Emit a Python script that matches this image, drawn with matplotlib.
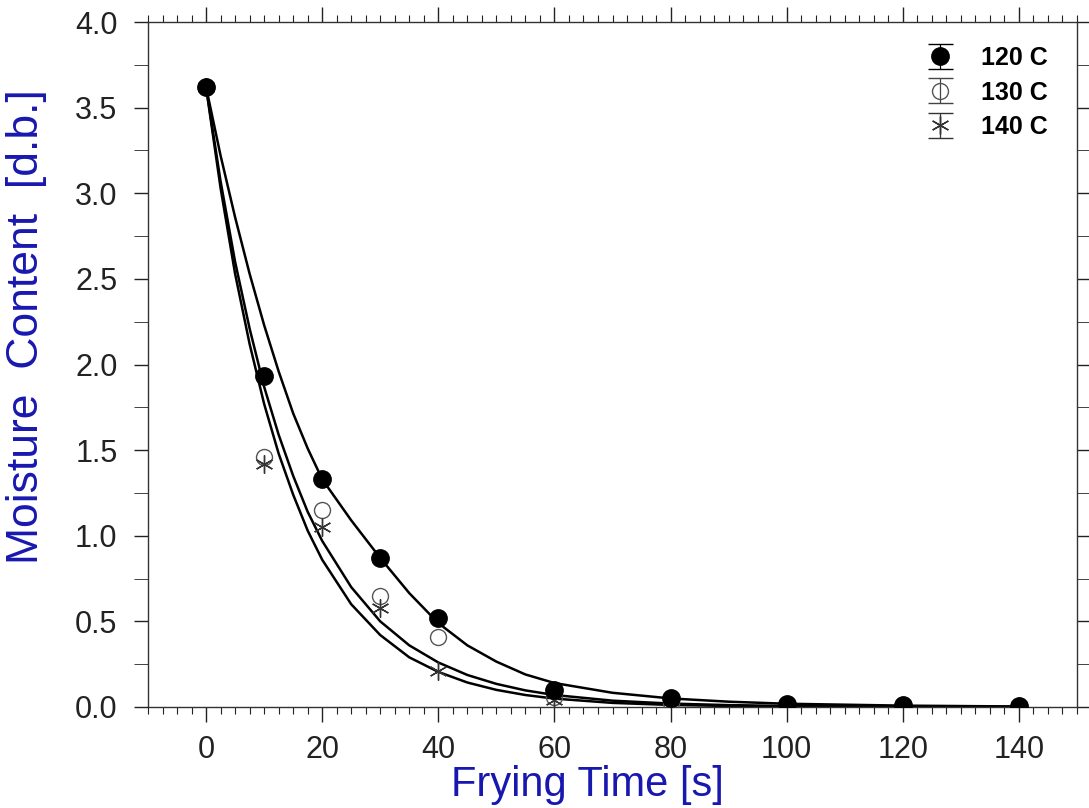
import matplotlib
matplotlib.use("Agg")
import matplotlib.pyplot as plt
from matplotlib.ticker import MultipleLocator, FixedLocator
from matplotlib.legend_handler import HandlerErrorbar

plt.rcParams['font.family'] = ['Liberation Sans', 'DejaVu Sans']

# ---- data ----
time_s = [0, 10, 20, 30, 40, 60, 80, 100, 120, 140]
mc_120 = [3.62, 1.93, 1.33, 0.87, 0.52, 0.10, 0.055, 0.015, 0.012, 0.008]
mc_130 = [3.62, 1.46, 1.15, 0.65, 0.41, 0.06, 0.025, 0.012, 0.010, 0.006]
mc_140 = [3.62, 1.42, 1.05, 0.58, 0.21, 0.04, 0.020, 0.010, 0.008, 0.005]

# fitted curves at these times
fit_t = [0, 2.5, 5, 7.5, 10, 12.5, 15, 17.5, 20, 25, 30, 35, 40, 45, 50, 55,
         60, 70, 80, 90, 100, 120, 140]
fit_120 = [3.62, 3.22, 2.86, 2.53, 2.23, 1.96, 1.715, 1.51, 1.33, 1.09, 0.87,
           0.665, 0.49, 0.36, 0.265, 0.19, 0.14, 0.083, 0.05, 0.031, 0.019,
           0.008, 0.003]
fit_130 = [3.62, 3.07, 2.60, 2.21, 1.87, 1.59, 1.35, 1.14, 0.97, 0.70, 0.50,
           0.36, 0.26, 0.187, 0.135, 0.097, 0.070, 0.037, 0.020, 0.011, 0.006,
           0.002, 0.0005]
fit_140 = [3.62, 3.03, 2.53, 2.12, 1.77, 1.48, 1.24, 1.03, 0.86, 0.60, 0.42,
           0.29, 0.205, 0.143, 0.10, 0.07, 0.049, 0.024, 0.012, 0.006, 0.003,
           0.001, 0.0]

labels = ['120 C', '130 C', '140 C']
x_ticks = [0, 20, 40, 60, 80, 100, 120, 140]
y_ticks = [0.0, 0.5, 1.0, 1.5, 2.0, 2.5, 3.0, 3.5, 4.0]

W, H = 1089, 808
L, R, T, B = 148, 1077, 22, 707

fig = plt.figure(figsize=(W / 100, H / 100), dpi=100)
ax = fig.add_axes([L / W, 1 - B / H, (R - L) / W, (B - T) / H])

line_kw = dict(color='black', lw=1.8, zorder=2, solid_joinstyle='round')
ax.plot(fit_t, fit_120, **line_kw)
ax.plot(fit_t, fit_130, **line_kw)
ax.plot(fit_t, fit_140, **line_kw)

sty_120 = dict(marker='o', ms=12.5, mfc='black', mec='black', mew=1.0)
sty_130 = dict(marker='o', ms=11.5, mfc='none', mec='#555555', mew=1.0)
sty_140 = dict(marker=(6, 2, 0), ms=13, mfc='none', mec='#333333', mew=1.0)

ax.plot(time_s, mc_130, ls='none', zorder=3, **sty_130)
ax.plot(time_s, mc_140, ls='none', zorder=3, **sty_140)
ax.plot(time_s, mc_120, ls='none', zorder=4, **sty_120)

# legend handles: markers with error bars (not drawn in the axes)
nan = float('nan')
err_kw = dict(yerr=[1.0], ls='none', elinewidth=0.9, capsize=9, capthick=0.9)
h1 = ax.errorbar([nan], [nan], ecolor='black', **err_kw, **sty_120)
h2 = ax.errorbar([nan], [nan], ecolor='#444444', **err_kw, **sty_130)
h3 = ax.errorbar([nan], [nan], ecolor='#333333', **err_kw, **sty_140)

ax.set_xlim(-10, 150)
ax.set_ylim(0, 4.0)
ax.xaxis.set_major_locator(FixedLocator(x_ticks))
ax.xaxis.set_minor_locator(MultipleLocator(2.5))
ax.yaxis.set_major_locator(FixedLocator(y_ticks))
ax.yaxis.set_minor_locator(MultipleLocator(0.25))
ax.set_xticklabels([str(v) for v in x_ticks])
ax.set_yticklabels([f'{v:.1f}' for v in y_ticks])

ax.tick_params(which='both', direction='out', top=True, right=True,
               labeltop=False, labelright=False, color='#222222')
ax.tick_params(axis='x', which='major', length=11, width=1.0, pad=9)
ax.tick_params(axis='x', which='minor', length=5, width=0.8)
ax.tick_params(axis='y', which='major', length=10, width=1.0, pad=12)
ax.tick_params(axis='y', which='minor', length=10, width=0.6)
ax.tick_params(axis='both', which='major', labelsize=22, labelcolor='#222222')
for s in ax.spines.values():
    s.set_linewidth(1.0)
    s.set_color('#333333')

lab_col = '#1818b0'
fig.text(587 / W, 1 - 785 / H, 'Frying Time [s]', fontsize=30, color=lab_col,
         ha='center', va='center')
fig.text(27 / W, 1 - 327 / H, 'Moisture  Content  [d.b.]', fontsize=32,
         color=lab_col, ha='center', va='center', rotation=90)

leg = ax.legend([h1, h2, h3], labels, loc='upper left',
                bbox_to_anchor=(927 / W, 1 - 46 / H),
                bbox_transform=fig.transFigure, frameon=False,
                prop=dict(weight='bold', size=18), handlelength=1.0,
                handletextpad=1.15, labelspacing=0.42,
                borderaxespad=0, borderpad=0,
                handler_map={type(h1): HandlerErrorbar(yerr_size=0.5)})

fig.savefig('out.png', dpi=100)
